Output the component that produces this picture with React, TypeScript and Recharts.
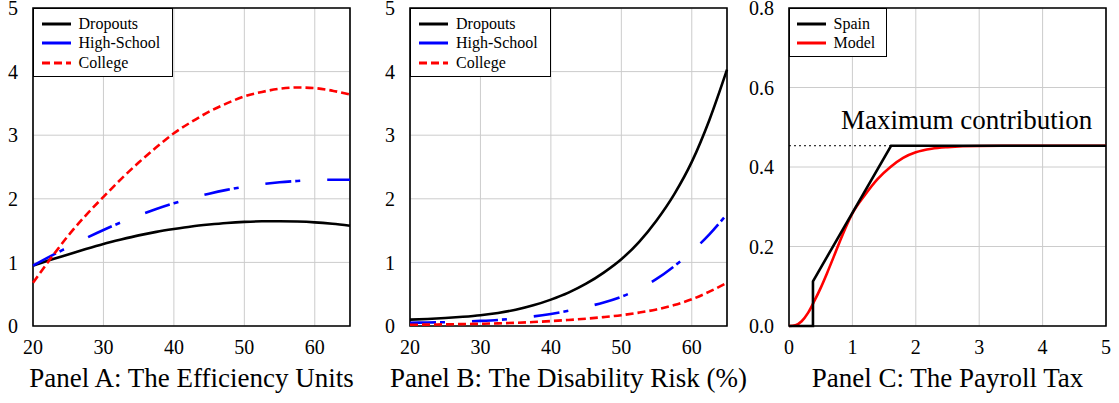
import React from 'react';
import { LineChart, Line, XAxis, YAxis, CartesianGrid, ReferenceArea, ReferenceLine } from 'recharts';

const FONT = 'Liberation Serif, Times New Roman, Tinos, DejaVu Serif, serif';

// ---- Panel A & B: ages ----
const ages = [20, 22.5, 25, 27.5, 30, 32.5, 35, 37.5, 40, 42.5, 45, 47.5, 50, 52.5, 55, 57.5, 60, 62.5, 65];

// Panel A: efficiency units
const effDropouts = [0.95, 1.04, 1.125, 1.21, 1.29, 1.36, 1.425, 1.48, 1.525, 1.565, 1.595, 1.62, 1.637, 1.646, 1.648, 1.643, 1.63, 1.607, 1.577];
const effHighSchool = [0.95, 1.10, 1.24, 1.38, 1.51, 1.63, 1.74, 1.84, 1.93, 2.01, 2.08, 2.14, 2.19, 2.23, 2.26, 2.28, 2.295, 2.30, 2.30];
const effCollege = [0.68, 1.06, 1.42, 1.74, 2.03, 2.31, 2.57, 2.81, 3.03, 3.21, 3.37, 3.50, 3.61, 3.68, 3.73, 3.75, 3.74, 3.70, 3.64];

// Panel B: disability risk (%)
const riskDropouts = [0.10, 0.11, 0.125, 0.145, 0.17, 0.205, 0.255, 0.325, 0.415, 0.525, 0.665, 0.84, 1.05, 1.32, 1.66, 2.07, 2.58, 3.24, 4.03];
const riskHighSchool = [0.05, 0.055, 0.06, 0.07, 0.08, 0.095, 0.12, 0.15, 0.19, 0.24, 0.30, 0.37, 0.46, 0.58, 0.74, 0.94, 1.17, 1.44, 1.76];
const riskCollege = [0.02, 0.022, 0.026, 0.03, 0.035, 0.042, 0.05, 0.062, 0.077, 0.095, 0.115, 0.14, 0.17, 0.21, 0.26, 0.33, 0.42, 0.54, 0.68];

// Panel C: payroll tax
const incomeSpain = [0, 0.378, 0.378, 1.61, 5];
const taxSpain = [0, 0, 0.1126, 0.4535, 0.4535];
const incomeModel = [0, 0.1, 0.2, 0.3, 0.4, 0.5, 0.6, 0.7, 0.8, 0.9, 1.0, 1.2, 1.4, 1.6, 1.8, 2.0, 2.25, 2.5, 3.0, 4.0, 5.0];
const taxModel = [0, 0.002, 0.012, 0.033, 0.063, 0.096, 0.133, 0.172, 0.212, 0.25, 0.283, 0.33, 0.37, 0.40, 0.423, 0.437, 0.446, 0.45, 0.453, 0.4535, 0.4535];
const maxContribution = 0.4535;
const maxContributionEnd = 1.61;

// ticks
const ageTicks = [20, 30, 40, 50, 60];
const unitTicks = [0, 1, 2, 3, 4, 5];
const incomeTicks = [0, 1, 2, 3, 4, 5];
const taxTicks = [0, 0.2, 0.4, 0.6, 0.8];

const effData = ages.map((a, i) => ({ age: a, d: effDropouts[i], h: effHighSchool[i], c: effCollege[i] }));
const riskData = ages.map((a, i) => ({ age: a, d: riskDropouts[i], h: riskHighSchool[i], c: riskCollege[i] }));
const spainData = incomeSpain.map((x, i) => ({ x, y: taxSpain[i] }));
const modelData = incomeModel.map((x, i) => ({ x, y: taxModel[i] }));

const tickStyle = { fill: '#000', fontSize: 20, fontFamily: FONT };
const GRID = '#cccccc';
const BLUE_DASH = '26 4 5 27';
const RED_DASH = '8 4';

type LegendItem = { name: string; color: string; dash?: string };

function LegendBox({ left, width, height, lineLeft, textLeft, rows, items }: { left: number; width: number; height: number; lineLeft: number; textLeft: number; rows: number[]; items: LegendItem[] }) {
  return (
    <div style={{ position: 'absolute', left, top: 8, width, height, boxSizing: 'border-box', border: '1.5px solid #000', background: '#fff', fontFamily: FONT, fontSize: 16, zIndex: 2 }}>
      {items.map((it, i) => (
        <div key={it.name} style={{ position: 'absolute', left: 0, top: rows[i] - 10, height: 20, width: '100%' }}>
          <svg style={{ position: 'absolute', left: lineLeft, top: 0 }} width={29} height={20}>
            <line x1={0} y1={10} x2={29} y2={10} stroke={it.color} strokeWidth={3} strokeDasharray={it.dash} />
          </svg>
          <span style={{ position: 'absolute', left: textLeft, top: 0, lineHeight: '20px', whiteSpace: 'nowrap', color: '#000' }}>{it.name}</span>
        </div>
      ))}
    </div>
  );
}

function Title({ center, text }: { center: number; text: string }) {
  return (
    <div style={{ position: 'absolute', left: center - 250, width: 500, top: 365.4, textAlign: 'center', fontFamily: FONT, fontSize: 27, lineHeight: '27px', color: '#000', whiteSpace: 'nowrap' }}>{text}</div>
  );
}

const schoolItems: LegendItem[] = [
  { name: 'Dropouts', color: '#000' },
  { name: 'High-School', color: '#0000ff' },
  { name: 'College', color: '#ff0000', dash: RED_DASH },
];

function AgePanel({ left, width, yWidth, right, data }: { left: number; width: number; yWidth: number; right: number; data: any[] }) {
  return (
    <div style={{ position: 'absolute', left, top: 0 }}>
      <LineChart width={width} height={403} data={data} margin={{ top: 8, right, bottom: 47, left: 0 }} style={{ overflow: 'visible' }}>
        <CartesianGrid stroke={GRID} strokeWidth={1} />
        <XAxis dataKey="age" type="number" domain={[20, 65]} ticks={ageTicks} tick={tickStyle} tickSize={0} tickMargin={14} axisLine={false} height={30} interval={0} />
        <YAxis type="number" domain={[0, 5]} ticks={unitTicks} tick={tickStyle} tickSize={0} tickMargin={15} axisLine={false} width={yWidth} interval={0} />
        <Line dataKey="d" type="monotone" stroke="#000" strokeWidth={2.6} dot={false} isAnimationActive={false} />
        <Line dataKey="h" type="monotone" stroke="#0000ff" strokeWidth={2.6} strokeDasharray={BLUE_DASH} dot={false} isAnimationActive={false} />
        <Line dataKey="c" type="monotone" stroke="#ff0000" strokeWidth={2.6} strokeDasharray={RED_DASH} dot={false} isAnimationActive={false} />
        <ReferenceArea x1={20} x2={65} y1={0} y2={5} fill="none" stroke="#000" strokeWidth={1.6} ifOverflow="visible" />
      </LineChart>
    </div>
  );
}

export default function App() {
  return (
    <div style={{ position: 'absolute', left: 0, top: 0, width: 1119, height: 403, background: '#fff', overflow: 'hidden' }}>
      <AgePanel left={0} width={360} yWidth={33} right={10} data={effData} />
      <AgePanel left={370} width={370} yWidth={40} right={13} data={riskData} />

      <div style={{ position: 'absolute', left: 740, top: 0 }}>
        <LineChart width={379} height={403} margin={{ top: 8, right: 13, bottom: 47, left: 0 }} style={{ overflow: 'visible' }}>
          <CartesianGrid stroke={GRID} strokeWidth={1} />
          <XAxis dataKey="x" type="number" domain={[0, 5]} ticks={incomeTicks} tick={tickStyle} tickSize={0} tickMargin={14} axisLine={false} height={30} interval={0} />
          <YAxis type="number" domain={[0, 0.8]} ticks={taxTicks} tick={tickStyle} tickFormatter={(v: number) => v.toFixed(1)} tickSize={0} tickMargin={15} axisLine={false} width={49} interval={0} />
          <ReferenceLine segment={[{ x: 0, y: maxContribution }, { x: maxContributionEnd, y: maxContribution }]} stroke="#000" strokeWidth={1} strokeDasharray="2 3" ifOverflow="visible" />
          <Line data={modelData} dataKey="y" type="monotone" stroke="#ff0000" strokeWidth={2.6} dot={false} isAnimationActive={false} />
          <Line data={spainData} dataKey="y" type="linear" stroke="#000" strokeWidth={2.6} dot={false} isAnimationActive={false} />
          <ReferenceArea x1={0} x2={5} y1={0} y2={0.8} fill="none" stroke="#000" strokeWidth={1.6} ifOverflow="visible" />
        </LineChart>
      </div>

      <LegendBox left={33} width={140} height={69} lineLeft={7.5} textLeft={44.5} rows={[14.5, 34, 53.5]} items={schoolItems} />
      <LegendBox left={410} width={141} height={69} lineLeft={8} textLeft={45} rows={[14.5, 34, 53.5]} items={schoolItems} />
      <LegendBox left={789} width={98} height={49} lineLeft={6.5} textLeft={43.5} rows={[14.5, 33.5]} items={[{ name: 'Spain', color: '#000' }, { name: 'Model', color: '#ff0000' }]} />

      <div style={{ position: 'absolute', left: 841, top: 107.4, fontFamily: FONT, fontSize: 27, lineHeight: '27px', color: '#000', whiteSpace: 'nowrap', zIndex: 2 }}>Maximum contribution</div>

      <Title center={191.5} text="Panel A: The Efficiency Units" />
      <Title center={568.5} text="Panel B: The Disability Risk (%)" />
      <Title center={947.5} text="Panel C: The Payroll Tax" />
    </div>
  );
}
